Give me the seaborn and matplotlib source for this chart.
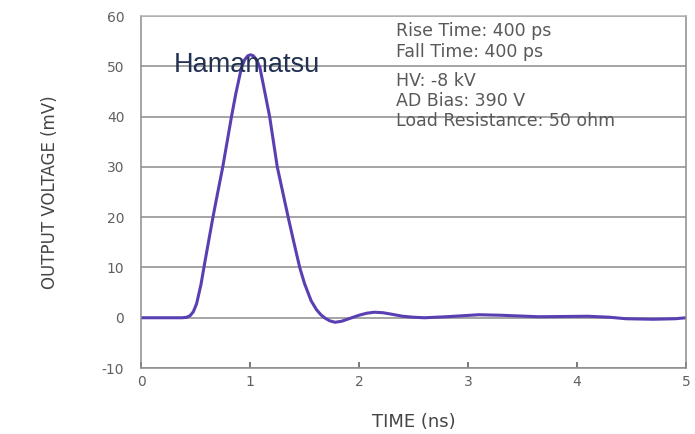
import matplotlib
matplotlib.use("Agg")
import matplotlib.pyplot as plt
import seaborn as sns
import pandas as pd

# Output pulse of the detector (time in ns, amplitude in mV)
time_ns = [0.0, 0.30, 0.38, 0.42, 0.45, 0.48, 0.51, 0.55, 0.577, 0.62,
           0.66, 0.70, 0.75, 0.79, 0.83, 0.87, 0.92, 0.95, 0.98, 1.005,
           1.03, 1.06, 1.09, 1.13, 1.18, 1.215, 1.25, 1.30, 1.35, 1.40,
           1.456, 1.50, 1.56, 1.61, 1.65, 1.69, 1.73, 1.78, 1.84, 1.92,
           2.0, 2.07, 2.14, 2.22, 2.3, 2.4, 2.5, 2.6, 2.8, 2.95, 3.1, 3.3,
           3.65, 4.1, 4.3, 4.45, 4.7, 4.9, 5.0]
voltage_mv = [0.0, 0.0, 0.0, 0.1, 0.4, 1.2, 2.8, 6.6, 10.0, 15.2,
              20.0, 24.5, 30.0, 35.0, 40.0, 44.6, 49.6, 51.3, 52.1, 52.3,
              52.1, 51.3, 49.8, 45.5, 40.0, 35.0, 30.0, 25.0, 20.0, 15.2,
              10.0, 6.8, 3.4, 1.6, 0.6, -0.1, -0.6, -0.9, -0.7, -0.1,
              0.5, 0.9, 1.1, 1.0, 0.7, 0.3, 0.1, 0.0, 0.2, 0.4, 0.6, 0.5,
              0.2, 0.3, 0.1, -0.2, -0.3, -0.2, 0.0]

x_ticks = [0, 1, 2, 3, 4, 5]
y_ticks = [-10, 0, 10, 20, 30, 40, 50, 60]

specs = ["Rise Time: 400 ps", "Fall Time: 400 ps",
         "HV: -8 kV", "AD Bias: 390 V", "Load Resistance: 50 ohm"]

sns.set_theme(style="white")
plt.rcParams["font.family"] = ["DejaVu Sans"]

fig = plt.figure(figsize=(6.95, 4.34), dpi=100)
ax = fig.add_axes([0.2029, 0.152, 0.7842, 0.811])

df = pd.DataFrame({"t": time_ns, "v": voltage_mv})
sns.lineplot(data=df, x="t", y="v", ax=ax, color="#5a3fb3", linewidth=2.2,
             estimator=None, sort=False)

ax.set_xlim(0, 5)
ax.set_ylim(-10, 60)
ax.set_xticks(x_ticks)
ax.set_yticks(y_ticks)
ax.set_xticklabels([str(v) for v in x_ticks], fontsize=10, color="#606060")
ax.set_yticklabels([str(v) for v in y_ticks], fontsize=10, color="#606060")

ax.yaxis.grid(True, color="#8c8c8c", linewidth=1.1)
ax.xaxis.grid(False)
ax.set_axisbelow(True)

for side in ["left", "bottom", "right", "top"]:
    ax.spines[side].set_visible(True)
    ax.spines[side].set_color("#8c8c8c")
    ax.spines[side].set_linewidth(1.1)
ax.spines["top"].set_color("#b5b5b5")

ax.tick_params(axis="x", direction="in", length=4, width=1.1,
               color="#555555", pad=5, bottom=True)
ax.tick_params(axis="y", length=0, pad=12)

ax.set_xlabel("TIME (ns)", fontsize=13, color="#444444", labelpad=17)
ax.set_ylabel("OUTPUT VOLTAGE (mV)", fontsize=12, color="#444444", labelpad=31)

ax.text(0.06, 0.86, "Hamamatsu", transform=ax.transAxes, fontsize=19.5,
        family=["Liberation Sans"], color="#223052", va="center", ha="left")

y_positions = [0.957, 0.897, 0.815, 0.758, 0.701]
for txt, yp in zip(specs, y_positions):
    ax.text(0.468, yp, txt, transform=ax.transAxes, fontsize=12.5,
            color="#595959", va="center", ha="left")

fig.savefig("out.png", dpi=100, facecolor="white")
